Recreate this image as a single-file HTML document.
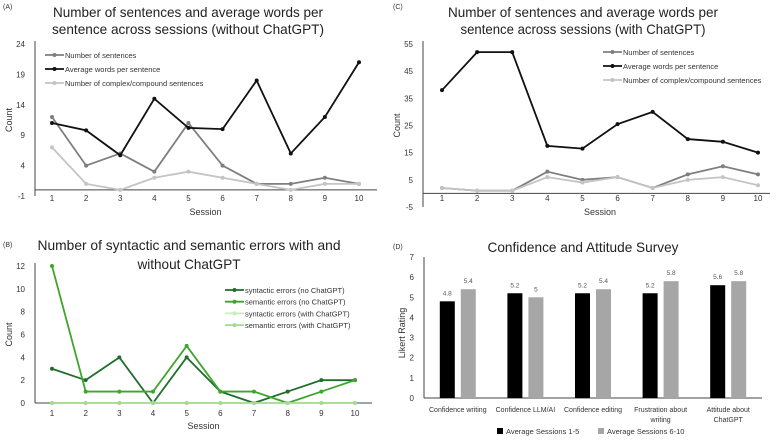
<!DOCTYPE html>
<html><head><meta charset="utf-8"><style>
body{margin:0;background:#fff;}
svg{display:block;font-family:"Liberation Sans",sans-serif;}
</style></head><body>
<svg id="s" width="779" height="440" viewBox="0 0 779 440">
<text x="3" y="9" font-size="7" fill="#333">(A)</text>
<text x="188" y="17" font-size="14" text-anchor="middle" fill="#222" textLength="270" lengthAdjust="spacingAndGlyphs">Number of sentences and average words per</text>
<text x="188" y="34" font-size="14" text-anchor="middle" fill="#222" textLength="272" lengthAdjust="spacingAndGlyphs">sentence across sessions (without ChatGPT)</text>
<text x="393" y="9" font-size="7" fill="#333">(C)</text>
<text x="583" y="17" font-size="14" text-anchor="middle" fill="#222" textLength="270" lengthAdjust="spacingAndGlyphs">Number of sentences and average words per</text>
<text x="583" y="34" font-size="14" text-anchor="middle" fill="#222" textLength="245" lengthAdjust="spacingAndGlyphs">sentence across sessions (with ChatGPT)</text>
<text x="3" y="247" font-size="7" fill="#333">(B)</text>
<text x="189" y="250" font-size="14" text-anchor="middle" fill="#222" textLength="303" lengthAdjust="spacingAndGlyphs">Number of syntactic and semantic errors with and</text>
<text x="189" y="269" font-size="14" text-anchor="middle" fill="#222" textLength="103" lengthAdjust="spacingAndGlyphs">without ChatGPT</text>
<text x="393" y="249" font-size="7" fill="#333">(D)</text>
<text x="583" y="252" font-size="14" text-anchor="middle" fill="#222" textLength="191" lengthAdjust="spacingAndGlyphs">Confidence and Attitude Survey</text>
<g id="g"></g>
</svg>
<script>
const sessions=[1,2,3,4,5,6,7,8,9,10];
const aSentences=[12,4,6,3,11,4,1,1,2,1];
const aWords=[11,9.8,5.7,15,10.2,10,18,6,12,21];
const aComplex=[7,1,0,2,3,2,1,0,1,1];
const aTicks=[-1,4,9,14,19,24];
const cSentences=[2,1,1,8,5,6,2,7,10,7];
const cWords=[38,52,52,17.5,16.5,25.5,30,20,19,15];
const cComplex=[2,1,1,6,4,6,2,5,6,3];
const cTicks=[-5,5,15,25,35,45,55];
const bSynNo=[3,2,4,0,4,1,0,1,2,2];
const bSemNo=[12,1,1,1,5,1,1,0,1,2];
const bSynWith=[0,0,0,0,0,0,0,0,0,0];
const bSemWith=[0,0,0,0,0,0,0,0,0,0];
const bTicks=[0,2,4,6,8,10,12];
const dCategories=[["Confidence writing"],["Confidence LLM/AI"],["Confidence editing"],["Frustration about","writing"],["Attitude about","ChatGPT"]];
const dEarly=[4.8,5.2,5.2,5.2,5.6];
const dLate=[5.4,5,5.4,5.8,5.8];
const dTicks=[0,1,2,3,4,5,6,7];

const NS="http://www.w3.org/2000/svg",G=document.getElementById('g');
function el(t,a,txt){const e=document.createElementNS(NS,t);for(const k in a)e.setAttribute(k,a[k]);if(txt!==undefined)e.textContent=txt;G.appendChild(e);return e;}

function linePanel(o){
  const xs=s=>o.x0+(s-1)*(o.x1-o.x0)/9;
  const ys=v=>o.yTop+(o.vMax-v)*(o.yBot-o.yTop)/(o.vMax-o.vMin);
  let e=el('line',{x1:o.ax,y1:o.yTop-3,x2:o.ax,y2:o.yBot,stroke:'#444','stroke-width':1});
  
  e=el('line',{x1:o.ax,y1:ys(0),x2:o.xEnd,y2:ys(0),stroke:'#444','stroke-width':1});
  
  o.ticks.forEach(t=>{e=el('text',{x:o.ax-10,y:ys(t)+3,'font-size':8,'text-anchor':'end',fill:'#333'},t);
    });
  sessions.forEach(s=>{e=el('text',{x:xs(s),y:o.xLabY,'font-size':8,'text-anchor':'middle',fill:'#333'},s);
    });
  e=el('text',{x:(o.x0+o.x1)/2,y:o.xTitleY,'font-size':9,'text-anchor':'middle',fill:'#333'},'Session');
  
  const cy=(o.yTop+o.yBot)/2;
  e=el('text',{x:o.ax-23,y:cy,'font-size':9,'text-anchor':'middle',fill:'#333',transform:`rotate(-90 ${o.ax-23} ${cy})`},o.yTitle);
  
  o.series.forEach((sr,i)=>{
    e=el('polyline',{points:sr.d.map((v,j)=>xs(sessions[j])+','+ys(v)).join(' '),fill:'none',stroke:sr.c,'stroke-width':sr.w||1.8});
    
    sr.d.forEach((v,j)=>{e=el('circle',{cx:xs(sessions[j]),cy:ys(v),r:2,fill:sr.c});
      });
    const ly=o.legY+i*o.legDy;
    e=el('line',{x1:o.legX,y1:ly,x2:o.legX+19,y2:ly,stroke:sr.c,'stroke-width':1.8});
    
    e=el('circle',{cx:o.legX+9.5,cy:ly,r:2,fill:sr.c});
    
    e=el('text',{x:o.legX+20,y:ly+3,'font-size':7.5,fill:'#333'},sr.n);
    
  });
}
linePanel({p:'panel-a',x0:52,x1:359,ax:35,xEnd:377,yTop:44,yBot:196,vMin:-1,vMax:24,ticks:aTicks,xLabY:201,xTitleY:215,yTitle:'Count',
  legX:45,legY:55,legDy:14,series:[
  {id:'sentences',d:aSentences,c:'#7f7f7f',n:'Number of sentences'},
  {id:'words',d:aWords,c:'#111',n:'Average words per sentence'},
  {id:'complex',d:aComplex,c:'#c4c4c4',n:'Number of complex/compound sentences'}]});
linePanel({p:'panel-c',x0:442,x1:758,ax:423,xEnd:770,yTop:44,yBot:207,vMin:-5,vMax:55,ticks:cTicks,xLabY:201,xTitleY:215,yTitle:'Count',
  legX:603,legY:52,legDy:14,series:[
  {id:'sentences',d:cSentences,c:'#7f7f7f',n:'Number of sentences'},
  {id:'words',d:cWords,c:'#111',n:'Average words per sentence'},
  {id:'complex',d:cComplex,c:'#c4c4c4',n:'Number of complex/compound sentences'}]});
linePanel({p:'panel-b',x0:52,x1:355,ax:35,xEnd:372,yTop:266,yBot:403,vMin:0,vMax:12,ticks:bTicks,xLabY:416,xTitleY:429,yTitle:'Count',
  legX:225,legY:290,legDy:11.7,series:[
  {id:'syntactic-no',d:bSynNo,c:'#1f6e2a',n:'syntactic errors (no ChatGPT)'},
  {id:'semantic-no',d:bSemNo,c:'#3fa52c',n:'semantic errors  (no ChatGPT)'},
  {id:'syntactic-with',d:bSynWith,c:'#c8ecbd',n:'syntactic errors (with ChatGPT)'},
  {id:'semantic-with',d:bSemWith,c:'#a3db93',n:'semantic errors (with ChatGPT)'}]});

(function(){
  const ax=424,xEnd=762,yTop=257,yBot=398,vMax=7;
  const ys=v=>yBot-v*(yBot-yTop)/vMax;
  const cw=(xEnd-ax)/dCategories.length;
  let e=el('line',{x1:ax,y1:yTop,x2:ax,y2:yBot,stroke:'#444'});
  
  e=el('line',{x1:ax,y1:yBot,x2:xEnd,y2:yBot,stroke:'#444'});
  
  dTicks.forEach(t=>{e=el('text',{x:ax-10,y:ys(t)+3,'font-size':8,'text-anchor':'end',fill:'#333'},t);
    });
  e=el('text',{x:405,y:333,'font-size':9,'text-anchor':'middle',fill:'#333',transform:'rotate(-90 405 333)'},'Likert Rating');
  
  dCategories.forEach((c,i)=>{
    const cx=ax+cw*(i+0.5),bw=15;
    e=el('rect',{x:cx-bw-3,y:ys(dEarly[i]),width:bw,height:yBot-ys(dEarly[i]),fill:'#000'});
    
    e=el('rect',{x:cx+3,y:ys(dLate[i]),width:bw,height:yBot-ys(dLate[i]),fill:'#a6a6a6'});
    
    e=el('text',{x:cx-3-bw/2,y:ys(dEarly[i])-6,'font-size':6.5,'text-anchor':'middle',fill:'#555'},dEarly[i]);
    
    e=el('text',{x:cx+3+bw/2,y:ys(dLate[i])-6,'font-size':6.5,'text-anchor':'middle',fill:'#555'},dLate[i]);
    
    c.forEach((ln,k)=>{e=el('text',{x:cx,y:412+k*10,'font-size':7,'text-anchor':'middle',fill:'#333'},ln);
      });
  });
  e=el('rect',{x:497,y:428,width:6,height:6,fill:'#000'});
  
  e=el('text',{x:506,y:434,'font-size':7.5,fill:'#333'},'Average Sessions 1-5');
  
  e=el('rect',{x:598,y:428,width:6,height:6,fill:'#a6a6a6'});
  
  e=el('text',{x:607,y:434,'font-size':7.5,fill:'#333'},'Average Sessions 6-10');
  
})();
</script>
</body></html>
